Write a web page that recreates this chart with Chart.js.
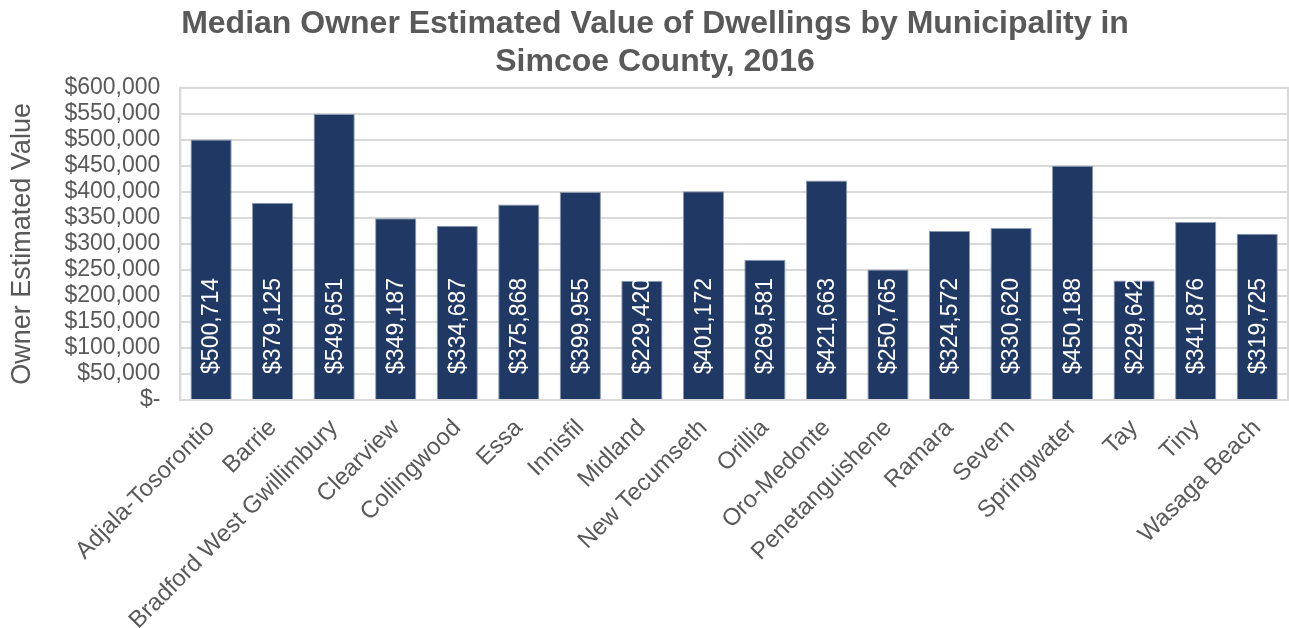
<!DOCTYPE html>
<html>
<head>
<meta charset="utf-8">
<script src="https://cdn.jsdelivr.net/npm/chart.js@4/dist/chart.umd.min.js"></script>
<style>
  html, body { margin: 0; padding: 0; background: #fff; }
  #wrap { width: 1289px; height: 628px; }
</style>
</head>
<body>
<div id="wrap"><canvas id="chart"></canvas></div>
<script>
// municipalities and median owner estimated dwelling value (2016)
const municipalities = [
  "Adjala-Tosorontio", "Barrie", "Bradford West Gwillimbury", "Clearview",
  "Collingwood", "Essa", "Innisfil", "Midland", "New Tecumseth", "Orillia",
  "Oro-Medonte", "Penetanguishene", "Ramara", "Severn", "Springwater",
  "Tay", "Tiny", "Wasaga Beach"
];
const medianValues = [
  500714, 379125, 549651, 349187, 334687, 375868, 399955, 229420, 401172,
  269581, 421663, 250765, 324572, 330620, 450188, 229642, 341876, 319725
];
const yTicks = [0, 50000, 100000, 150000, 200000, 250000, 300000, 350000,
  400000, 450000, 500000, 550000, 600000];

const grey = "#595959";
const font = "'Liberation Sans', Arial, sans-serif";

const money = v => v === 0 ? "$-" : "$" + v.toLocaleString("en-US");

// white rotated value labels inside the bars
const barLabels = {
  id: "barLabels",
  afterDatasetsDraw(chart) {
    const ctx = chart.ctx;
    const meta = chart.getDatasetMeta(0);
    const y = chart.chartArea.bottom - 122;
    ctx.save();
    ctx.fillStyle = "#ffffff";
    ctx.font = "23px " + font;
    ctx.textAlign = "right";
    ctx.textBaseline = "middle";
    meta.data.forEach((bar, i) => {
      ctx.save();
      ctx.translate(bar.x, y);
      ctx.rotate(-Math.PI / 2);
      ctx.fillText(money(medianValues[i]), 0, 1);
      ctx.restore();
    });
    ctx.restore();
  }
};

// light frame around the plot area
const plotFrame = {
  id: "plotFrame",
  beforeDatasetsDraw(chart) {
    const a = chart.chartArea;
    const ctx = chart.ctx;
    ctx.save();
    ctx.strokeStyle = "#d9d9d9";
    ctx.lineWidth = 2;
    ctx.strokeRect(a.left, a.top, a.right - a.left, a.bottom - a.top);
    ctx.restore();
  }
};

new Chart(document.getElementById("chart"), {
  type: "bar",
  data: {
    labels: municipalities,
    datasets: [{
      data: medianValues,
      backgroundColor: "#203864",
      borderColor: "#8a9ab5",
      borderWidth: 1,
      categoryPercentage: 1,
      barPercentage: 0.67
    }]
  },
  options: {
    responsive: true,
    maintainAspectRatio: false,
    animation: false,
    layout: { padding: { top: 0, right: 1, left: 22, bottom: 0 } },
    plugins: {
      legend: { display: false },
      tooltip: { enabled: false },
      title: {
        display: true,
        text: ["Median Owner Estimated Value of Dwellings by Municipality in", "Simcoe County, 2016"],
        color: grey,
        font: { family: font, size: 32, weight: "bold" },
        padding: { top: 5, bottom: 6 },
        lineHeight: 1.1
      }
    },
    scales: {
      x: {
        grid: { display: false },
        border: { color: "#d9d9d9", width: 2 },
        afterFit(scale) {
          scale.height = 228;
        },
        ticks: {
          color: grey,
          font: { family: font, size: 24 },
          maxRotation: 45,
          minRotation: 45,
          autoSkip: false,
          padding: 6
        }
      },
      y: {
        min: 0,
        max: 600000,
        afterBuildTicks(scale) {
          scale.ticks = yTicks.map(v => ({ value: v }));
        },
        grid: { color: "#d9d9d9", lineWidth: 2, drawTicks: false },
        border: { color: "#d9d9d9", width: 2 },
        ticks: {
          color: grey,
          font: { family: font, size: 23 },
          padding: 20,
          autoSkip: false,
          callback: v => money(v)
        },
        title: {
          display: true,
          text: "Owner Estimated Value",
          color: grey,
          font: { family: font, size: 27 },
          padding: { top: -16, bottom: 6 }
        }
      }
    }
  },
  plugins: [plotFrame, barLabels]
});
</script>
</body>
</html>
